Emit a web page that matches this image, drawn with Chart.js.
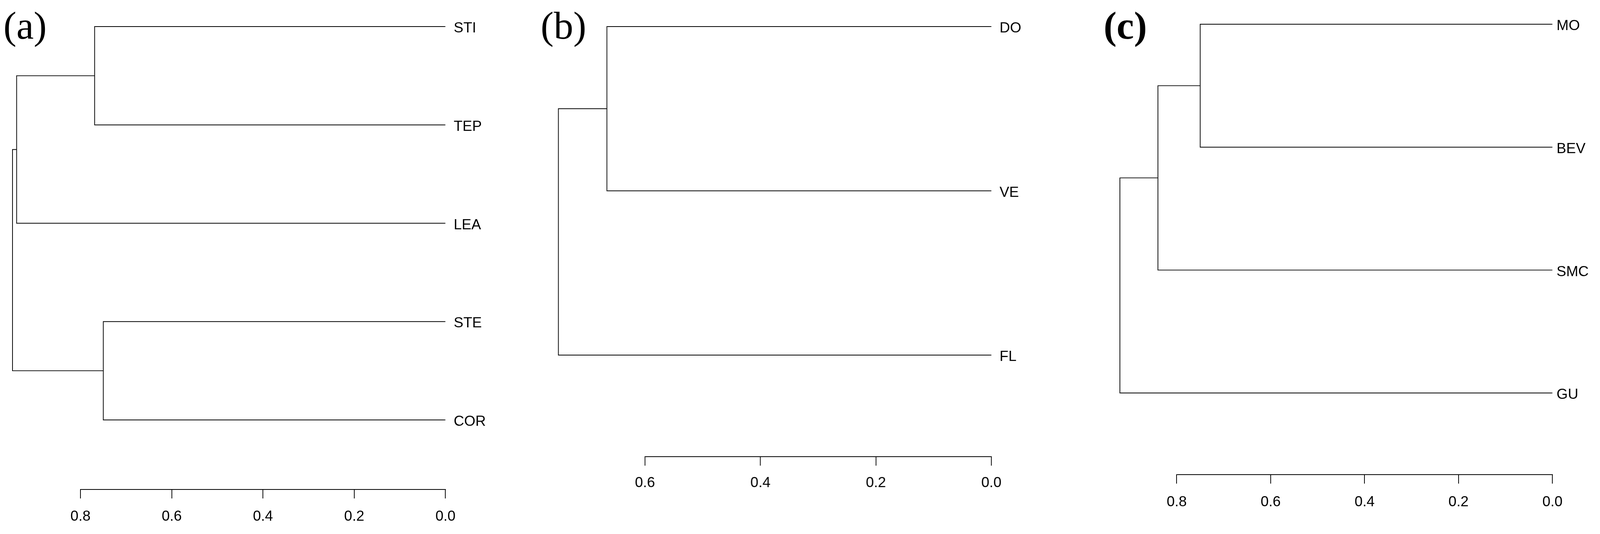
<!DOCTYPE html>
<html>
<head>
<meta charset="utf-8">
<script src="https://cdn.jsdelivr.net/npm/chart.js@4.4.1/dist/chart.umd.min.js"></script>
<style>
    html, body { margin: 0; padding: 0; background: #fff; overflow: hidden; }
    .panel { position: absolute; }
</style>
</head>
<body>
<div class="panel" id="boxA"><canvas id="dendA"></canvas></div>
<div class="panel" id="boxB"><canvas id="dendB"></canvas></div>
<div class="panel" id="boxC"><canvas id="dendC"></canvas></div>
<script>
// panel (a)
const leavesA = ['STI', 'TEP', 'LEA', 'STE', 'COR'];
const mergeA = [[-1, -2], [1, -3], [-4, -5], [2, 3]];
const heightA = [0.769, 0.940, 0.750, 0.949];
const ticksA = [0, 0.2, 0.4, 0.6, 0.8];

// panel (b)
const leavesB = ['DO', 'VE', 'FL'];
const mergeB = [[-1, -2], [1, -3]];
const heightB = [0.666, 0.750];
const ticksB = [0, 0.2, 0.4, 0.6];

// panel (c)
const leavesC = ['MO', 'BEV', 'SMC', 'GU'];
const mergeC = [[-1, -2], [1, -3], [2, -4]];
const heightC = [0.750, 0.840, 0.921];
const ticksC = [0, 0.2, 0.4, 0.6, 0.8];

// layout is worked out for a 4267 x 1367 page, scaled to the real viewport
const kx = window.innerWidth / 4267;
const ky = window.innerHeight / 1367;
const pxX = v => v * kx;
const pxY = v => v * ky;
const TOP = 70; // room above the plot for the y axis label padding

// hclust style merge table -> elbow paths (x = height, y = leaf position)
function treeSegments(merge, height) {
    const nodes = [];
    const pos = function (id) {
        if (id < 0) return { x: 0, y: -id };
        return nodes[id - 1];
    }
    const segs = [];
    for (let i = 0; i < merge.length; i++) {
        const a = pos(merge[i][0]);
        const b = pos(merge[i][1]);
        const h = height[i];
        segs.push([{ x: a.x, y: a.y }, { x: h, y: a.y }, { x: h, y: b.y }, { x: b.x, y: b.y }]);
        nodes.push({ x: h, y: (a.y + b.y) / 2 });
    }
    return segs;
}

// R style axis line: only from first to last tick
const axisLine = {
    id: 'axisLine',
    afterDraw(chart) {
        const x = chart.scales.x;
        const vals = x.ticks.map(t => t.value);
        const ctx = chart.ctx;
        ctx.save();
        ctx.strokeStyle = '#000';
        ctx.lineWidth = pxY(2);
        ctx.beginPath();
        ctx.moveTo(x.getPixelForValue(Math.max(...vals)) - pxX(1), x.top);
        ctx.lineTo(x.getPixelForValue(Math.min(...vals)) + pxX(1), x.top);
        ctx.stroke();
        ctx.restore();
    }
};

const panelTag = {
    id: 'panelTag',
    afterDraw(chart) {
        const o = chart.options.plugins.panelTag;
        const ctx = chart.ctx;
        ctx.save();
        ctx.fillStyle = '#000';
        ctx.font = o.weight + ' ' + pxY(100) + 'px "Liberation Serif", "Times New Roman", serif';
        ctx.textAlign = 'left';
        ctx.textBaseline = 'alphabetic';
        ctx.fillText(o.text, pxX(o.x), pxY(o.y + TOP));
        ctx.restore();
    }
};

function dendrogram(id, box, leaves, merge, height, ticks, view, tag) {
    const el = document.getElementById(box);
    el.style.left = pxX(view.left) + 'px';
    el.style.top = -pxY(TOP) + 'px';
    el.style.width = pxX(view.width) + 'px';
    el.style.height = pxY(1367 + TOP) + 'px';
    const labelFont = { family: '"Liberation Sans", Arial, sans-serif', size: pxY(37) };
    const segs = treeSegments(merge, height);
    return new Chart(document.getElementById(id), {
        type: 'scatter',
        data: {
            datasets: segs.map(s => ({
                data: s,
                showLine: true,
                borderColor: '#000',
                borderWidth: pxX(2),
                pointRadius: 0,
                tension: 0,
                fill: false
            }))
        },
        options: {
            animation: false,
            responsive: true,
            maintainAspectRatio: false,
            devicePixelRatio: 1,
            layout: { padding: { left: pxX(20), top: pxY(TOP), right: 0, bottom: 0 } },
            plugins: {
                legend: { display: false },
                tooltip: { enabled: false },
                panelTag: tag
            },
            scales: {
                x: {
                    type: 'linear',
                    reverse: true,
                    min: 0,
                    max: view.xMax,
                    border: { display: false },
                    grid: { display: true, drawOnChartArea: false, drawTicks: true, tickLength: pxY(23), color: '#000', lineWidth: pxX(2) },
                    ticks: {
                        color: '#000', font: labelFont, padding: pxY(view.tickPad),
                        maxRotation: 0, autoSkip: false,
                        callback: v => Number(v).toFixed(1)
                    },
                    afterBuildTicks: s => { s.ticks = ticks.map(v => ({ value: v })); },
                    afterFit: s => { s.height = pxY(view.axisH); }
                },
                y: {
                    type: 'linear',
                    position: 'right',
                    reverse: true,
                    min: view.yMin,
                    max: view.yMax,
                    border: { display: false },
                    grid: { display: false, drawTicks: false },
                    ticks: {
                        color: '#000', font: labelFont, padding: pxX(view.labelPad),
                        labelOffset: pxY(5), autoSkip: false,
                        callback: v => leaves[Math.round(v) - 1]
                    },
                    afterBuildTicks: s => { s.ticks = leaves.map((l, i) => ({ value: i + 1 })); },
                    afterFit: s => { s.width = pxX(view.labelW); }
                }
            }
        },
        plugins: [axisLine, panelTag]
    });
}

dendrogram('dendA', 'boxA', leavesA, mergeA, heightA, ticksA,
    { left: 0, width: 1420, xMax: 0.96, yMin: 0.7299, yMax: 5.707, axisH: 114, labelW: 232, tickPad: 25, labelPad: 22 },
    { text: '(a)', x: 9, y: 99, weight: 'normal' });
dendrogram('dendB', 'boxB', leavesB, mergeB, heightB, ticksB,
    { left: 1420, width: 1480, xMax: 0.782, yMin: 0.8383, yMax: 3.6183, axisH: 198, labelW: 257, tickPad: 23, labelPad: 22 },
    { text: '(b)', x: 22, y: 99, weight: 'normal' });
dendrogram('dendC', 'boxC', leavesC, mergeC, heightC, ticksC,
    { left: 2900, width: 1367, xMax: 0.974, yMin: 0.803, yMax: 4.664, axisH: 152, labelW: 127, tickPad: 26, labelPad: 11 },
    { text: '(c)', x: 43, y: 99, weight: 'bold' });
</script>
</body>
</html>
